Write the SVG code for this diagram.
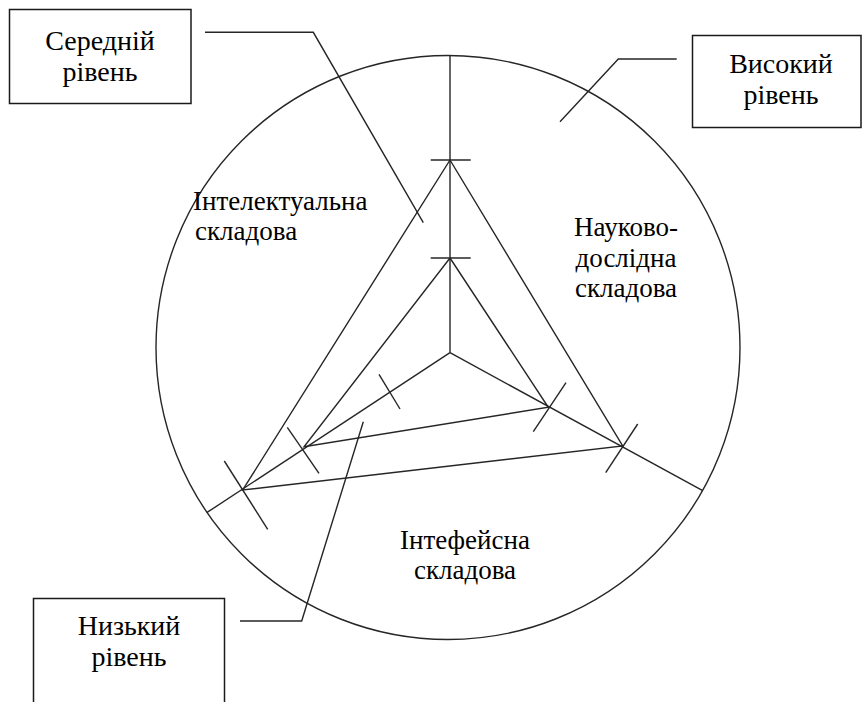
<svg xmlns="http://www.w3.org/2000/svg" width="862" height="702" viewBox="0 0 862 702">
<rect width="862" height="702" fill="#fff"/>
<g id="chart" fill="none" stroke="#262626" stroke-width="1.4">
<circle cx="448" cy="347.5" r="292"/>
<line x1="450" y1="352.7" x2="450" y2="55"/>
<line x1="450" y1="352.7" x2="206.7" y2="512.7"/>
<line x1="450" y1="352.7" x2="702.7" y2="490.7"/>
<polygon points="450,160 622.7,446 242.7,490"/>
<polygon points="450,258 548.3,407.3 304,446.7"/>
<line x1="430.7" y1="160" x2="470.7" y2="160"/>
<line x1="430.7" y1="258" x2="470.7" y2="258"/>
<line x1="379" y1="374.3" x2="400" y2="409"/>
<line x1="287.3" y1="427.3" x2="319" y2="473.3"/>
<line x1="224.3" y1="461" x2="267.7" y2="529.3"/>
<line x1="566" y1="382.7" x2="533.3" y2="431.7"/>
<line x1="637.7" y1="424" x2="605.7" y2="472.7"/>
</g>
<g id="label-intellectual">
<text x="193" y="210" font-size="27" font-family="Liberation Serif">Інтелектуальна</text>
<text x="195" y="240" font-size="27" font-family="Liberation Serif">складова</text>
</g>
<g id="label-research">
<text x="626" y="236" font-size="27" font-family="Liberation Serif" text-anchor="middle">Науково-</text>
<text x="626" y="267" font-size="27" font-family="Liberation Serif" text-anchor="middle">дослідна</text>
<text x="626" y="297" font-size="27" font-family="Liberation Serif" text-anchor="middle">складова</text>
</g>
<g id="label-interface">
<text x="465" y="549" font-size="27" font-family="Liberation Serif" text-anchor="middle">Інтефейсна</text>
<text x="465" y="579" font-size="27" font-family="Liberation Serif" text-anchor="middle">складова</text>
</g>
<g id="box-middle">
<rect x="9.5" y="9.5" width="181.5" height="94" fill="#fff" stroke="#1a1a1a" stroke-width="1.5"/>
<text x="100" y="50" font-size="28" font-family="Liberation Serif" text-anchor="middle">Середній</text>
<text x="100" y="81" font-size="28" font-family="Liberation Serif" text-anchor="middle">рівень</text>
</g>
<g id="box-high">
<rect x="692.5" y="35.5" width="168.5" height="92" fill="#fff" stroke="#1a1a1a" stroke-width="1.5"/>
<text x="781" y="73" font-size="28" font-family="Liberation Serif" text-anchor="middle">Високий</text>
<text x="781" y="104" font-size="28" font-family="Liberation Serif" text-anchor="middle">рівень</text>
</g>
<g id="box-low">
<rect x="33.5" y="598.5" width="191" height="110" fill="#fff" stroke="#1a1a1a" stroke-width="1.5"/>
<text x="129" y="635" font-size="28" font-family="Liberation Serif" text-anchor="middle">Низький</text>
<text x="129" y="666" font-size="28" font-family="Liberation Serif" text-anchor="middle">рівень</text>
</g>
<g id="connectors" fill="none" stroke="#262626" stroke-width="1.4">
<polyline points="205,32.3 313.3,32.3 423.3,222.7"/>
<polyline points="676.7,59 618.3,59 560,121.7"/>
<polyline points="240,621 301.7,621 363.3,421.7"/>
</g>
</svg>
